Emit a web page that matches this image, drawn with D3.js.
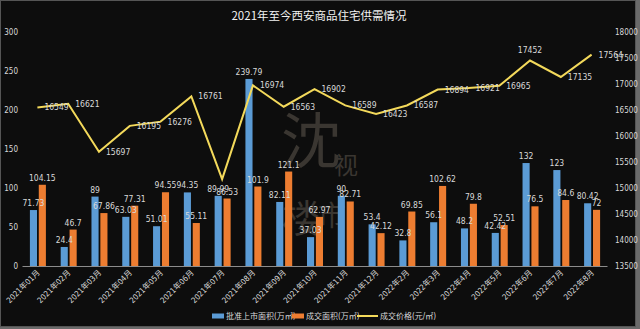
<!DOCTYPE html>
<html><head><meta charset="utf-8">
<script src="https://cdn.jsdelivr.net/npm/d3@7"></script>
<style>body{margin:0;background:#6a6a6a;overflow:hidden}svg{display:block}</style>
</head><body><svg id="c" width="640" height="329"></svg>
<script>
const categories=["2021年01月","2021年02月","2021年03月","2021年04月","2021年05月","2021年06月","2021年07月","2021年08月","2021年09月","2021年10月","2021年11月","2021年12月","2022年2月","2022年3月","2022年4月","2022年5月","2022年6月","2022年7月","2022年8月"];
const supply=[71.73,24.4,89,63.03,51.01,94.35,89.99,239.79,82.11,37.03,90,53.4,32.8,56.1,48.2,42.42,132,123,80.42];
const sales=[104.15,46.7,67.86,77.31,94.55,55.11,86.53,101.9,121.1,62.97,82.71,42.12,69.85,102.62,79.8,52.51,76.5,84.6,72];
const price=[16549,16621,15697,16195,16276,16761,15171,16974,16563,16902,16589,16423,16587,16894,16921,16965,17452,17135,17564];
const leftTicks=[0,50,100,150,200,250,300];
const rightTicks=[13500,14000,14500,15000,15500,16000,16500,17000,17500,18000];
const seriesNames=["批准上市面积(万㎡)","成交面积(万㎡)","成交价格(元/㎡)"];
const title="2021年至今西安商品住宅供需情况";

const svg=d3.select("#c");
const F="'Liberation Sans Narrow','DejaVu Sans Condensed','Noto Sans CJK SC',sans-serif";
const TXT="#d9d9d9";
svg.append("rect").attr("x",0.5).attr("y",0.5).attr("width",635).attr("height",326).attr("fill","#0d0d0d").attr("stroke","#555");

const L=22,R=607,T=32,B=266;
const x0=d3.scaleBand().domain(categories).range([L,R]);
const x1=d3.scaleBand().domain([0,1]).range([0,16]).paddingInner(0.2);
const yL=d3.scaleLinear().domain([0,300]).range([B,T]);
const yR=d3.scaleLinear().domain([13500,18000]).range([B,T]);
const cx=c=>x0(c)+x0.bandwidth()/2;

// watermark
const wm=svg.append("g").attr("fill","#3a3631").attr("font-family","'Noto Sans CJK SC',sans-serif");
wm.append("text").attr("x",281).attr("y",163).attr("font-size",60).text("沈");
wm.append("text").attr("x",334).attr("y",174).attr("font-size",24).text("视");
wm.append("text").attr("x",282).attr("y",232).attr("font-size",38).text("楼");
wm.append("text").attr("x",318).attr("y",226).attr("font-size",28).text("市");

// title
svg.append("text").attr("x",319).attr("y",20).attr("text-anchor","middle").attr("fill","#f2f2f2")
  .attr("font-family","'Noto Sans CJK SC',sans-serif").attr("font-size",11.5).text(title);

// left axis
const ga=svg.append("g").attr("transform",`translate(${L-4},0)`).call(d3.axisLeft(yL).tickValues(leftTicks).tickSize(0).tickPadding(0));
ga.select(".domain").remove();
ga.selectAll("text").attr("fill",TXT).attr("font-family",F).attr("font-size",8);
const gr=svg.append("g").attr("transform",`translate(${R+8},0)`).call(d3.axisRight(yR).tickValues(rightTicks).tickFormat(d3.format("d")).tickSize(0).tickPadding(0));
gr.select(".domain").remove();
gr.selectAll("text").attr("fill",TXT).attr("font-family",F).attr("font-size",8);

// x axis
const gx=svg.append("g").attr("transform",`translate(0,${B})`).call(d3.axisBottom(x0).tickSize(0).tickPadding(0));
gx.select(".domain").attr("stroke","#8c8c8c").attr("stroke-width",1.2);
gx.selectAll("text").attr("fill",TXT).attr("font-family",F).attr("font-size",8)
  .attr("text-anchor","end").attr("dy",0).attr("transform","translate(3,7) rotate(-45)");

// bars
const colors=["#5b9bd5","#ed7d31"];
const series=[supply,sales];
const groupOff=(x0.bandwidth()-16)/2+0.5;
series.forEach((vals,si)=>{
  svg.append("g").selectAll("rect").data(vals).join("rect")
    .attr("x",(d,i)=>x0(categories[i])+groupOff+x1(si))
    .attr("width",x1.bandwidth())
    .attr("y",d=>yL(d)).attr("height",d=>B-yL(d)).attr("fill",colors[si]);
});

// line
const line=d3.line().x((d,i)=>cx(categories[i])).y(d=>yR(d));
svg.append("path").datum(price).attr("d",line).attr("fill","none").attr("stroke","#f3d95b").attr("stroke-width",2).attr("stroke-linejoin","miter");

// bar labels
series.forEach((vals,si)=>{
  svg.append("g").selectAll("text").data(vals).join("text")
    .attr("x",(d,i)=>x0(categories[i])+groupOff+x1(si)+x1.bandwidth()/2)
    .attr("y",d=>yL(d)-4)
    .attr("text-anchor","middle").attr("fill",TXT).attr("font-family",F).attr("font-size",8.5)
    .text(d=>d);
});
// price labels (07 label not shown in reference)
const pl=price.map((v,i)=>({v,i})).filter(d=>d.i!==6);
svg.append("g").selectAll("text").data(pl).join("text")
  .attr("x",d=>d.i===16?cx(categories[d.i]):cx(categories[d.i])+7)
  .attr("y",d=>d.i===16?yR(d.v)-7:yR(d.v)+3)
  .attr("text-anchor",d=>d.i===16?"middle":"start")
  .attr("fill",TXT).attr("font-family",F).attr("font-size",8.5).text(d=>d.v);

// legend
const lg=svg.append("g").attr("font-family",F).attr("font-size",8).attr("fill",TXT);
lg.append("rect").attr("x",212).attr("y",313.5).attr("width",12).attr("height",5).attr("fill",colors[0]);
lg.append("text").attr("x",226).attr("y",319).text(seriesNames[0]);
lg.append("rect").attr("x",292).attr("y",313.5).attr("width",12).attr("height",5).attr("fill",colors[1]);
lg.append("text").attr("x",306).attr("y",319).text(seriesNames[1]);
lg.append("line").attr("x1",357).attr("x2",378).attr("y1",316).attr("y2",316).attr("stroke","#f3d95b").attr("stroke-width",2);
lg.append("text").attr("x",380).attr("y",319).text(seriesNames[2]);
</script></body></html>
